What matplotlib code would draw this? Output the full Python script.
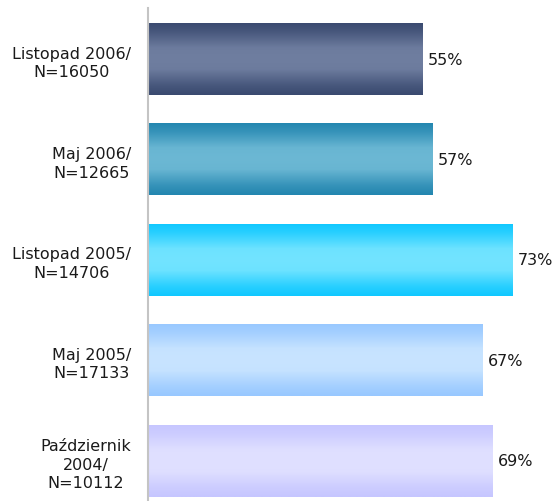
import matplotlib

matplotlib.use("Agg")
import matplotlib.pyplot as plt
import numpy as np
from matplotlib.colors import to_rgb

labels = [
    "Listopad 2006/\nN=16050",
    "Maj 2006/\nN=12665",
    "Listopad 2005/\nN=14706",
    "Maj 2005/\nN=17133",
    "Październik\n2004/\nN=10112",
]
values = [55, 57, 73, 67, 69]

# (edge colour, centre colour) for the vertical shading of each bar
shades = [
    ("#3a4a70", "#6f7ea0"),
    ("#2386b0", "#6cb8d4"),
    ("#10c8ff", "#72e4ff"),
    ("#98c8ff", "#c8e4ff"),
    ("#c6c6ff", "#e0e0ff"),
]


def gradient(edge, centre, n=64):
    e = np.array(to_rgb(edge))
    c = np.array(to_rgb(centre))
    t = np.abs(np.linspace(-1, 1, n))
    w = np.interp(t, [0, 0.3, 0.75, 1.0], [1.0, 0.95, 0.25, 0.0])
    return (e[None, :] + (c - e)[None, :] * w[:, None])[:, None, :]


fig = plt.figure(figsize=(5.58, 5.02), dpi=100)
ax = fig.add_axes([148 / 558, 0, 410 / 558, 493 / 502])

y = np.arange(len(values))
h = 0.717
bars = ax.barh(y, values, height=h, color="none", edgecolor="none")
for bar, v, (edge, centre) in zip(bars, values, shades):
    yc = bar.get_y() + h / 2
    im = ax.imshow(
        gradient(edge, centre),
        extent=(0, v, yc + h / 2, yc - h / 2),
        aspect="auto",
        interpolation="bilinear",
        zorder=2,
    )
    im.set_clip_path(bar)
    ax.text(v + 1.0, yc, f"{v}%", va="center", ha="left", fontsize=11.5, color="#1a1a1a")

ax.set_xlim(0, 82)
ax.set_ylim(4.40, -0.508)
ax.set_yticks(y)
ax.set_yticklabels(labels, fontsize=11.5, color="#1a1a1a", multialignment="center",
                   linespacing=1.3)
ax.tick_params(axis="y", length=0, pad=12)
ax.set_xticks([])
for s in ("top", "right", "bottom"):
    ax.spines[s].set_visible(False)
ax.spines["left"].set_color("#c4c4c4")
ax.spines["left"].set_linewidth(1.5)

fig.savefig("out.png", dpi=100)
